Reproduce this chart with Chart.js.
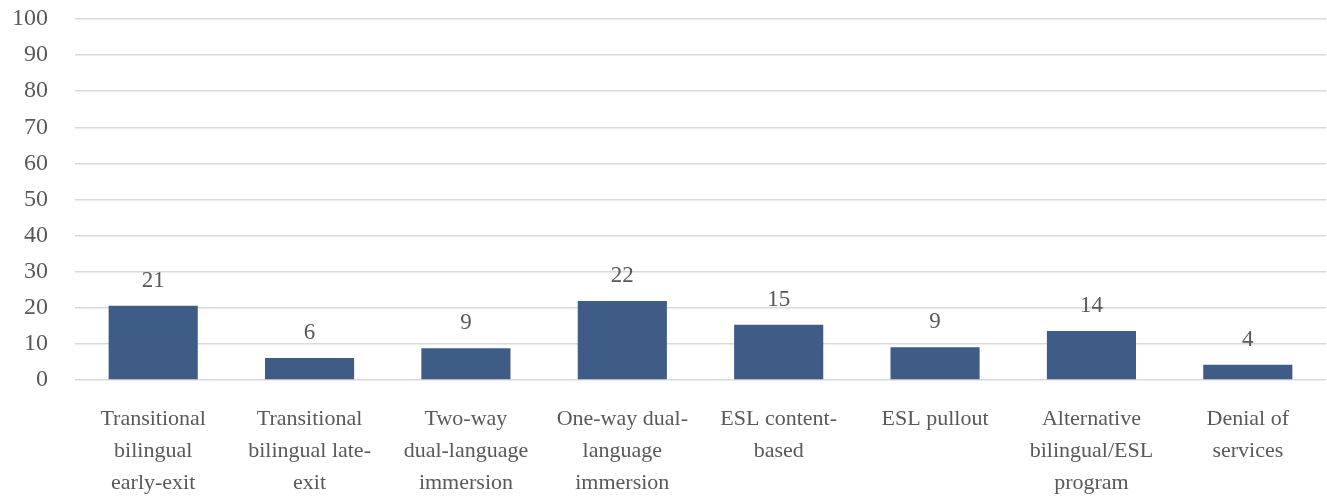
<!DOCTYPE html>
<html>
<head>
<meta charset="utf-8">
<script src="https://cdn.jsdelivr.net/npm/chart.js@4"></script>
<style>
  html, body { margin: 0; padding: 0; background: #fff; }
  #wrap { width: 1327px; height: 497px; }
</style>
</head>
<body>
<div id="wrap"><canvas id="programChart"></canvas></div>
<script>
// categories (wrapped like the original axis)
const programs = [
  ["Transitional", "bilingual", "early-exit"],
  ["Transitional", "bilingual late-", "exit"],
  ["Two-way", "dual-language", "immersion"],
  ["One-way dual-", "language", "immersion"],
  ["ESL content-", "based"],
  ["ESL pullout"],
  ["Alternative", "bilingual/ESL", "program"],
  ["Denial of", "services"]
];
// bar heights
const percents = [20.6, 6.1, 8.8, 21.9, 15.3, 9.1, 13.6, 4.2];
// labels printed above bars
const valueLabels = ["21", "6", "9", "22", "15", "9", "14", "4"];
const yTicks = [0, 10, 20, 30, 40, 50, 60, 70, 80, 90, 100];

const textGray = "#595959";
const fontFam = "'Liberation Serif', 'Times New Roman', serif";

// draws the value above each bar
const valueLabelPlugin = {
  id: "valueLabels",
  afterDatasetsDraw(chart) {
    const ctx = chart.ctx;
    const meta = chart.getDatasetMeta(0);
    ctx.save();
    ctx.fillStyle = textGray;
    ctx.font = "23px " + fontFam;
    ctx.textAlign = "center";
    ctx.textBaseline = "alphabetic";
    meta.data.forEach((bar, i) => {
      ctx.fillText(valueLabels[i], bar.x, bar.y - 19);
    });
    ctx.restore();
  }
};

const ctx = document.getElementById("programChart").getContext("2d");
const programChart = new Chart(ctx, {
  type: "bar",
  data: {
    labels: programs,
    datasets: [
      {
        data: percents,
        backgroundColor: "#3F5C87",
        borderWidth: 0,
        barPercentage: 0.57,
        categoryPercentage: 1.0,
      },
    ],
  },
  options: {
    responsive: true,
    maintainAspectRatio: false,
    animation: false,
    layout: { padding: { top: 19, right: 1, left: 0, bottom: 0 } },
    plugins: {
      legend: { display: false },
      tooltip: { enabled: false },
    },
    scales: {
      x: {
        grid: { display: false, drawTicks: false },
        border: { display: false },
        ticks: {
          color: textGray,
          font: { family: fontFam, size: 22, lineHeight: 1.45 },
          padding: 23,
          maxRotation: 0,
          autoSkip: false,
        },
        afterFit: (scale) => { scale.height = 117; },
      },
      y: {
        min: 0,
        max: 100,
        afterBuildTicks: (scale) => {
          scale.ticks = yTicks.map((v) => ({ value: v }));
        },
        grid: { color: "#D9D9D9", lineWidth: 1.5, drawTicks: false },
        border: { display: false },
        ticks: {
          color: textGray,
          font: { family: fontFam, size: 24 },
          padding: 27,
        },
        afterFit: (scale) => {
          scale.width = 75;
          // the tick padding should not push the plot down
          scale.paddingTop = 0;
          scale.paddingBottom = 0;
        },
      },
    },
  },
  plugins: [valueLabelPlugin],
});
</script>
</body>
</html>
